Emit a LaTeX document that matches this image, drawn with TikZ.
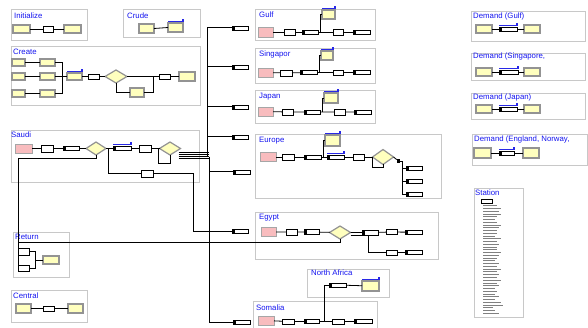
\documentclass[tikz,border=0pt]{standalone}
\usepackage{fontspec}
\setmainfont{Liberation Sans}
\usetikzlibrary{shapes.geometric,calc}
\definecolor{ttlblue}{RGB}{20,20,240}
\definecolor{pinkf}{RGB}{248,188,190}
\definecolor{yelf}{RGB}{255,255,190}
\definecolor{panelc}{RGB}{200,200,200}
\definecolor{qblue}{RGB}{40,40,230}
\newcommand{\bx}[6]{\node[#1,minimum width={(#5)-(#3)},minimum height={(#6)-(#4)}] (#2) at ({((#3)+(#5))/2},{((#4)+(#6))/2}) {};}
\newcommand{\qbar}[1]{\draw[qb] ([yshift=1.6pt]#1.north west) -- ([yshift=1.6pt]#1.north east) -- ++(0,2.6pt);}
\begin{document}
\begin{tikzpicture}[x=1pt,y=-1pt,
  panel/.style={draw=panelc, line width=0.9pt, fill=white},
  ttl/.style={text=ttlblue, font=\fontsize{7.8}{8.5}\selectfont, anchor=base west, inner sep=0pt},
  box/.style={rectangle, inner sep=0pt, outer sep=0pt},
  yel/.style={box, fill=yelf, draw=gray!85, line width=1.1pt},
  crt/.style={box, fill=pinkf, draw=gray!70, line width=0.9pt},
  proc/.style={box, fill=white, draw=black, line width=0.7pt},
  route/.style={box, fill=white, draw=black, line width=0.8pt,
    path picture={\fill[black] (path picture bounding box.south west) rectangle ([xshift=2.8pt]path picture bounding box.north west);}},
  dia/.style={diamond, inner sep=0pt, outer sep=0pt, fill=yelf, draw=gray!85, line width=1.2pt},
  ln/.style={draw=black, line width=0.8pt},
  bus/.style={draw=black, line width=1pt},
  qb/.style={draw=qblue, line width=1.1pt},
  jsq/.style={rectangle, fill=black, inner sep=0pt, minimum width=3pt, minimum height=4pt}
]
\useasboundingbox (0,0) rectangle (588,328);
% ---------------- panels
\draw[panel] (11,9) rectangle (87,40);
\draw[panel] (123,9) rectangle (200,37);
\draw[panel] (11,46) rectangle (200,105);
\draw[panel] (11,130) rectangle (199,182);
\draw[panel] (13,232) rectangle (69,277);
\draw[panel] (11,290) rectangle (87,322);
\draw[panel] (255,9) rectangle (375,40);
\draw[panel] (255,48) rectangle (375,83);
\draw[panel] (255,90) rectangle (375,123);
\draw[panel] (255,134) rectangle (441,198);
\draw[panel] (255,212) rectangle (438,259);
\draw[panel] (307,269) rectangle (389,297);
\fill[white] (253,301) rectangle (377,328);
\draw[panel, fill=none] (253,330) -- (253,301) -- (377,301) -- (377,330);
\draw[panel] (471,11) rectangle (585,41);
\draw[panel] (471,53) rectangle (585,80);
\draw[panel] (471,93) rectangle (585,119);
\draw[panel] (472,134) rectangle (587,165);
\draw[panel] (474,188) rectangle (523,317);
% ---------------- titles
\node[ttl] (tInit) at (14,19) {Initialize};
\node[ttl] (tCrude) at (127,19) {Crude};
\node[ttl] (tCreate) at (13,55) {Create};
\node[ttl] (tSaudi) at (11,137.5) {Saudi};
\node[ttl] (tRet) at (15,240) {Return};
\node[ttl] (tCen) at (13,298.5) {Central};
\node[ttl] (tGulf) at (259,17.5) {Gulf};
\node[ttl] (tSing) at (259,57) {Singapor};
\node[ttl] (tJap) at (259,98.5) {Japan};
\node[ttl] (tEur) at (259,142.5) {Europe};
\node[ttl] (tEgy) at (259,219.5) {Egypt};
\node[ttl] (tNA) at (311,276) {North Africa};
\node[ttl] (tSom) at (256,310) {Somalia};
\node[ttl] (tD1) at (473,19) {Demand (Gulf)};
\node[ttl] (tD2) at (473,59) {Demand (Singapore,};
\node[ttl] (tD3) at (473,100) {Demand (Japan)};
\node[ttl] (tD4) at (474,142) {Demand (England, Norway,};
\node[ttl] (tSt) at (475,196) {Station};
% ---------------- Initialize
\bx{yel}{iy1}{13}{25}{30}{33}
\bx{proc}{ip}{43}{26}{53}{32}
\bx{yel}{iy2}{64}{25}{81}{33}
\draw[ln] (iy1) -- (ip) -- (iy2);
% ---------------- Crude
\bx{yel}{cy1}{139}{24}{154}{33}
\bx{yel}{cy2}{168}{23}{183}{32}
\qbar{cy2}
\draw[ln] (cy1.east) -- (cy2.west);
% ---------------- Create
\bx{yel}{c11}{12}{59}{25}{66}
\bx{yel}{c12}{40}{59}{55}{66}
\bx{yel}{c21}{12}{73}{25}{80}
\bx{yel}{c22}{40}{73}{55}{80}
\bx{yel}{c31}{12}{90}{25}{97}
\bx{yel}{c32}{40}{90}{55}{97}
\bx{yel}{cy}{67}{73}{82}{80}
\qbar{cy}
\bx{proc}{cp1}{88}{74}{99}{79}
\node[dia, minimum width=22, minimum height=13] (cd) at (116,76.5) {};
\bx{proc}{cp2}{159}{74}{170}{79}
\bx{yel}{cye}{179}{72}{195}{81}
\bx{yel}{cpa}{130}{88}{144}{97}
\coordinate (cj) at (62,76.5);
\coordinate (cjn) at (153,76.5);
\draw[ln] (c11) -- (c12); \draw[ln] (c21) -- (c22); \draw[ln] (c31) -- (c32);
\draw[ln] (c12.east) -| (cj); \draw[ln] (c32.east) -| (cj);
\draw[ln] (c22.east) -- (cy.west);
\draw[ln] (cy) -- (cp1) -- (cd);
\draw[ln] (cd.east) -- (cp2.west);
\draw[ln] (cp2) -- (cye);
\draw[ln] (cd.south) |- (cpa.west);
\draw[ln] (cpa.east) -| (cjn);
% ---------------- Saudi
\bx{crt}{sc}{15}{144}{32}{153}
\bx{proc}{sp1}{41}{145}{53}{152}
\bx{route}{sr1}{63}{146.5}{79}{150.5}
\node[dia, minimum width=20, minimum height=13] (sd1) at (96,148.5) {};
\bx{route}{sr2}{113}{146.5}{131}{150.5}
\qbar{sr2}
\bx{proc}{sp2}{139}{145}{151}{152}
\node[dia, minimum width=21, minimum height=13] (sd2) at (170,148.5) {};
\bx{proc}{sp3}{141}{170}{153}{177}
\coordinate (sj) at (108,148.5);
\coordinate (sl) at (158,163);
\draw[ln] (sc) -- (sp1) -- (sr1) -- (sd1) -- (sr2) -- (sp2) -- (sd2);
\draw[ln] (sd2.west) -| (sl) -| (sd2.south);
\draw[ln] (sj) |- (sp3.west);
% ---------------- bus and route boxes
\bx{route}{rg}{232}{26}{248}{30}
\bx{route}{rs}{232}{65}{248}{69}
\bx{route}{rj}{232}{105}{248}{109}
\bx{route}{re}{232}{135}{248}{139}
\bx{route}{re2}{233}{170}{250}{174}
\bx{route}{egr}{232}{229}{248}{233}
\bx{route}{rso}{233}{320}{250}{324}
\coordinate (busM) at (207,156);
\coordinate (busL) at (209,157);
\draw[bus] (rg.west) -| (busM);
\draw[bus] (rs.west) -- (rs.west -| busM);
\draw[bus] (rj.west) -- (rj.west -| busM);
\draw[bus] (re.west) -- (re.west -| busM);
\draw[bus] (busL) |- (rso.west);
\draw[bus] (re2.west) -- (re2.west -| busL);
\foreach \d in {3.5,5.5,7.5,9.5}
  \draw[ln] ([xshift=-2pt,yshift=-\d pt]sd2.east) -- ([yshift=-\d pt]sd2.east -| busL);
\coordinate (sdn) at (193,231);
\draw[ln] (sp3.east) -| (sdn) -- (egr.west);
% ---------------- Return
\bx{proc}{rp1}{18}{248}{29}{255}
\bx{proc}{rp2}{18}{265}{29}{271}
\bx{yel}{ry}{43}{256}{59}{264}
\coordinate (rA) at (18,158);
\coordinate (rB) at (18,242);
\coordinate (rjn) at (35,260);
\draw[ln] (rB) -- (rp2.west);
\draw[ln] (rp1.east) -| (rjn); \draw[ln] (rp2.east) -| (rjn);
\draw[ln] (rjn) -- (ry.west);
% ---------------- Central
\bx{yel}{cey1}{16}{304}{31}{313}
\bx{proc}{cep}{43}{306}{54}{311}
\bx{yel}{cey2}{68}{304}{83}{313}
\draw[ln] (cey1) -- (cep) -- (cey2);
% ---------------- Gulf
\bx{crt}{gc}{258}{27}{273}{37}
\bx{proc}{gp1}{284}{29}{295}{35}
\bx{route}{gr1}{302}{30}{318}{34}
\bx{yel}{gy}{322}{10}{335}{19}
\qbar{gy}
\bx{proc}{gp2}{333}{29}{343}{35}
\bx{route}{gr2}{353}{30}{370}{34}
\coordinate (gj) at (320,32);
\draw[ln] (gc) -- (gp1) -- (gr1) -- (gp2) -- (gr2);
\draw[ln] (gj) |- (gy.west);
% ---------------- Singapor
\bx{crt}{snc}{258}{68}{273}{77}
\bx{proc}{snp1}{280}{70}{292}{76}
\bx{route}{snr1}{300}{70.5}{317}{74.5}
\bx{yel}{sny}{321}{51}{333}{60}
\qbar{sny}
\bx{proc}{snp2}{333}{70}{343}{75}
\bx{route}{snr2}{353}{70.5}{370}{74.5}
\coordinate (snj) at (319,72.5);
\draw[ln] (snc) -- (snp1) -- (snr1) -- (snp2) -- (snr2);
\draw[ln] (snj) |- (sny.west);
% ---------------- Japan
\bx{crt}{jc}{258}{107}{273}{116}
\bx{proc}{jp1}{282}{109}{293}{115}
\bx{route}{jr1}{304}{110}{320}{114}
\bx{yel}{jy}{324}{93}{338}{103}
\qbar{jy}
\bx{proc}{jp2}{334}{109}{345}{115}
\bx{route}{jr2}{354}{110}{371}{114}
\coordinate (jj) at (322,112);
\draw[ln] (jc) -- (jp1) -- (jr1) -- (jp2) -- (jr2);
\draw[ln] (jj) |- (jy.west);
% ---------------- Europe
\bx{crt}{ec}{260}{152.5}{276}{161.5}
\bx{proc}{ep1}{282}{154}{294}{160}
\bx{route}{er1}{304}{155}{321}{159}
\bx{yel}{ey}{325}{135}{340}{146}
\qbar{ey}
\bx{route}{er2}{327}{155}{344}{159}
\qbar{er2}
\bx{proc}{ep2}{353}{154}{364}{160}
\node[dia, minimum width=21, minimum height=15] (ed) at (383,157) {};
\node[jsq] (ejn) at (398.5,161) {};
\bx{route}{eo1}{406}{166}{422}{170}
\bx{route}{eo2}{406}{179}{422}{183}
\bx{route}{eo3}{406}{192}{422}{196}
\coordinate (ej1) at (323,157);
\coordinate (el) at (372,167);
\coordinate (ev) at (402,161);
\draw[ln] (ec) -- (ep1) -- (er1) -- (er2) -- (ep2) -- (ed);
\draw[ln] (ej1) |- (ey.west);
\draw[ln] (ed.west) -| (el) -| (ed.south);
\draw[ln] (ed.east) -- (ejn);
\draw[ln] (ejn) -- (ev) |- (eo3.west);
\draw[ln] (eo1.west) -- (eo1.west -| ev);
\draw[ln] (eo2.west) -- (eo2.west -| ev);
% ---------------- Egypt
\bx{crt}{egc}{261}{227.5}{276}{236.5}
\bx{proc}{egp1}{286}{229}{297}{235}
\bx{route}{egr1}{304}{229.5}{319}{234.5}
\node[dia, minimum width=21, minimum height=13] (egd) at (340,232.5) {};
\bx{route}{egr2}{362}{230}{378}{235}
\bx{proc}{egp2}{386}{229.5}{397}{234.5}
\bx{route}{egr3}{405}{230}{422}{234.5}
\bx{proc}{egp3}{386}{250}{397}{255}
\bx{route}{egr4}{405}{250.5}{422}{254.5}
\draw[ln] (egc) -- (egp1) -- (egr1) -- (egd) -- (egr2) -- (egp2) -- (egr3);
\draw[ln] ([yshift=-3pt]egd.east) -- ++(18,0) |- (egp3.west);
\draw[ln] (egp3) -- (egr4);
% long return line
\draw[ln] (sd1.south) |- (rA) -- (rB) -| (egd.south);
% ---------------- North Africa & Somalia
\bx{route}{nr}{329}{283}{346}{287}
\bx{yel}{ny}{362}{281}{379}{291}
\qbar{ny}
\bx{crt}{soc}{258}{316}{274}{325}
\bx{proc}{sop1}{282}{319}{294}{324}
\bx{route}{sor1}{304}{319.5}{319}{323.5}
\bx{proc}{sop2}{332}{319}{344}{324}
\bx{route}{sor2}{354}{319.5}{372}{323.5}
\coordinate (soj) at (324,321.5);
\draw[ln] (nr) -- (ny);
\draw[ln] (nr.west) -| (soj);
\draw[ln] (soc) -- (sop1) -- (sor1) -- (sop2) -- (sor2);
% ---------------- Demand panels
\bx{yel}{d1a}{476}{25}{492}{33}
\bx{route}{d1r}{499}{27}{517}{31}
\qbar{d1r}
\bx{yel}{d1b}{524}{25}{540}{33}
\draw[ln] (d1a) -- (d1r) -- (d1b);
\bx{yel}{d2a}{476}{68}{492}{76}
\bx{route}{d2r}{499}{70}{518}{74}
\qbar{d2r}
\bx{yel}{d2b}{524}{68}{540}{76}
\draw[ln] (d2a) -- (d2r) -- (d2b);
\bx{yel}{d3a}{476}{105}{492}{113}
\bx{route}{d3r}{499}{107}{517}{111}
\qbar{d3r}
\bx{yel}{d3b}{524}{105}{540}{113}
\draw[ln] (d3a) -- (d3r) -- (d3b);
\bx{yel}{d4a}{474}{148}{491}{158}
\bx{route}{d4r}{499}{151}{514}{155}
\qbar{d4r}
\bx{yel}{d4b}{523}{148}{539}{158}
\draw[ln] (d4a) -- (d4r) -- (d4b);
% ---------------- Station
\bx{proc}{stb}{481}{199}{492}{203}
\foreach \l [count=\i from 0] in {14,18,16,18,14,12,14,18,16,14,14,12,18,14,16,14,14,18,16,14,12,16,14,18,14,16,14,18,14,16,12,14,12,16,12,18,20,10,12,16}
  \draw[line width=1pt, draw=black!50] (483,{206+2.75*\i}) -- ++(\l,0);
\end{tikzpicture}
\end{document}
